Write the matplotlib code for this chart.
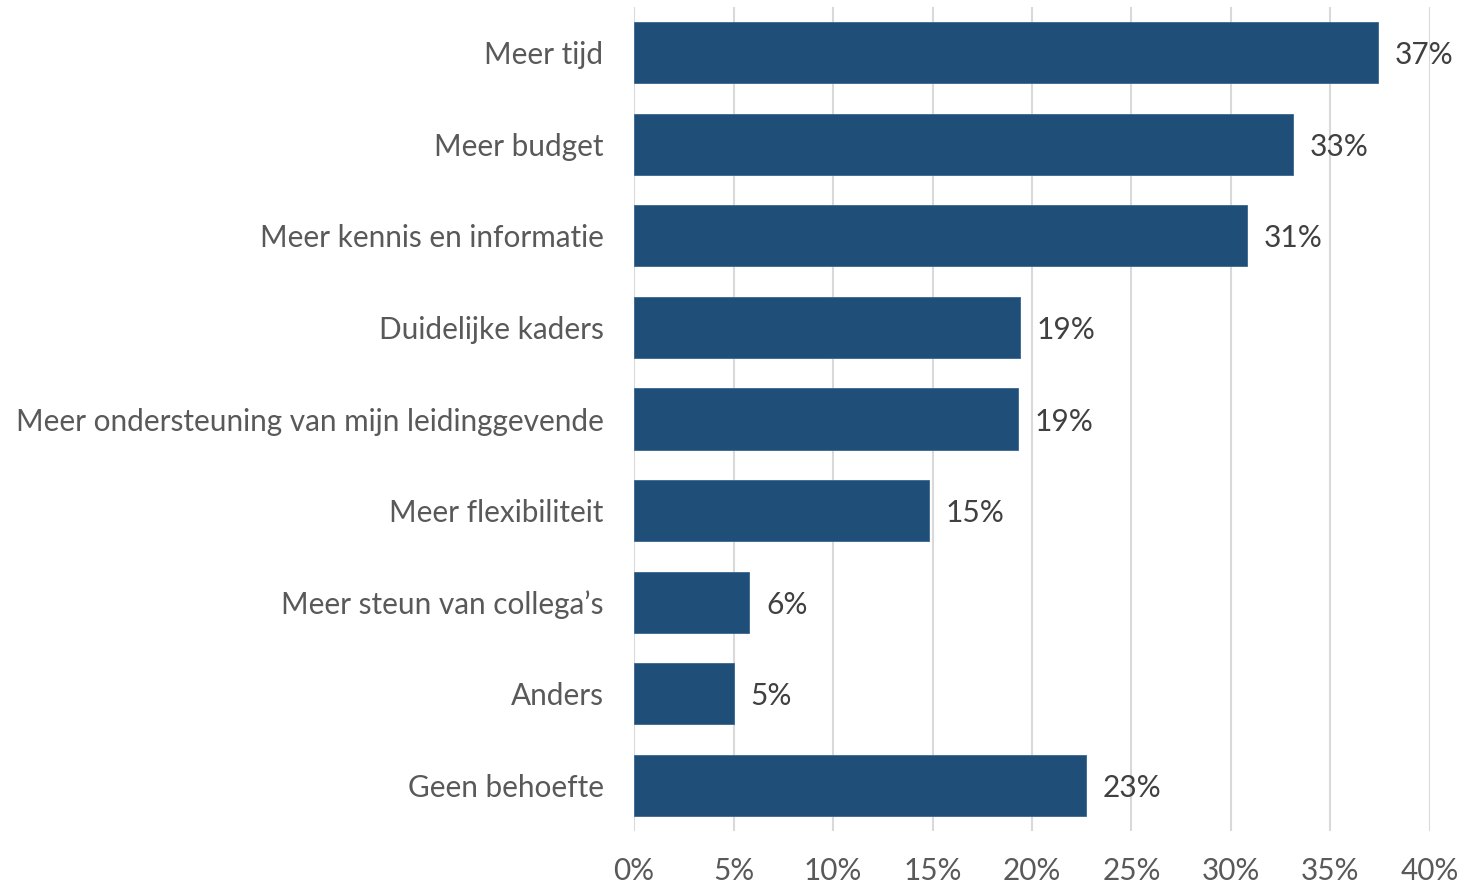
import matplotlib.pyplot as plt

categories = [
    "Meer tijd",
    "Meer budget",
    "Meer kennis en informatie",
    "Duidelijke kaders",
    "Meer ondersteuning van mijn leidinggevende",
    "Meer flexibiliteit",
    "Meer steun van collega\u2019s",
    "Anders",
    "Geen behoefte",
]
percentages = [37.4, 33.1, 30.8, 19.4, 19.3, 14.8, 5.8, 5.0, 22.7]
x_ticks = [0, 5, 10, 15, 20, 25, 30, 35, 40]

BAR = "#1F4E79"
TEXT = "#595959"
GRID = "#D9D9D9"


def main():
    plt.rcParams["font.family"] = ["Lato", "DejaVu Sans"]

    fig = plt.figure(figsize=(14.63, 8.84), dpi=100)
    ax = fig.add_axes([0.4334, 0.06, 0.5440, 0.932])

    y = list(range(len(categories)))
    ax.barh(y, percentages, height=0.667, color=BAR,
            edgecolor="#3A6690", linewidth=0.6, zorder=3)

    for yi, v in zip(y, percentages):
        ax.text(v + 0.85, yi, f"{v:.0f}%", va="center_baseline", ha="left",
                fontsize=21.5, color="#404040")

    ax.set_xlim(0, 40)
    ax.set_ylim(len(categories) - 0.5, -0.5)
    ax.set_xticks(x_ticks)
    ax.set_xticklabels([f"{t}%" for t in x_ticks])
    ax.set_yticks(y)
    ax.set_yticklabels(categories)

    ax.tick_params(axis="both", length=0, labelsize=21.4, labelcolor=TEXT)
    ax.tick_params(axis="y", pad=22)
    ax.tick_params(axis="x", pad=19)

    ax.grid(axis="x", color=GRID, linewidth=1.5, zorder=0)
    ax.set_axisbelow(True)
    for side in ("top", "right", "bottom", "left"):
        ax.spines[side].set_visible(False)

    fig.savefig("out.png", dpi=100)


if __name__ == "__main__":
    main()
